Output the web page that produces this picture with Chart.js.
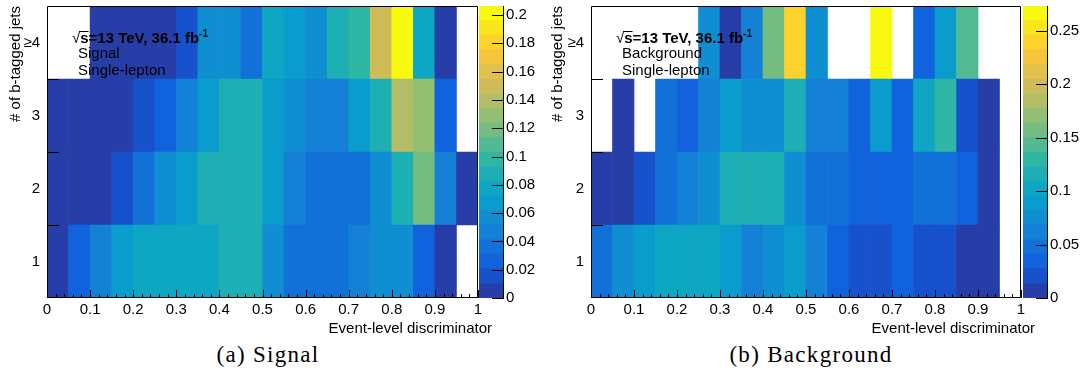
<!DOCTYPE html>
<html>
<head>
<meta charset="utf-8">
<title>b-tag multiplicity vs event-level discriminator</title>
<script src="https://cdn.jsdelivr.net/npm/chart.js@4.4.1/dist/chart.umd.min.js"></script>
<style>
  body { margin: 0; background: #fff; }
  #page { position: relative; width: 1085px; height: 377px; overflow: hidden; background: #fff; }
  canvas { position: absolute; top: 0; }
  .caption {
    position: absolute; top: 343px;
    font-family: "Liberation Serif", "Times New Roman", serif;
    font-size: 23px; line-height: 23px; letter-spacing: 1.3px;
    white-space: nowrap; transform: translateX(-50%); color: #000;
  }
</style>
</head>
<body>
<div id="page">
  <canvas id="sigMap" width="500" height="340" style="left:0"></canvas>
  <canvas id="sigPal" width="70" height="340" style="left:479px"></canvas>
  <canvas id="bkgMap" width="545" height="340" style="left:540px"></canvas>
  <canvas id="bkgPal" width="62" height="340" style="left:1023px"></canvas>
  <div class="caption" style="left:268px">(a) Signal</div>
  <div class="caption" style="left:811px">(b) Background</div>
</div>
<script>
// 20 bins of the event-level discriminator
var binCenters = [0.025, 0.075, 0.125, 0.175, 0.225, 0.275, 0.325, 0.375, 0.425, 0.475,
                  0.525, 0.575, 0.625, 0.675, 0.725, 0.775, 0.825, 0.875, 0.925, 0.975];
var nbLabels = ['1', '2', '3', '\u22654'];
var xTickValues = [0, 0.1, 0.2, 0.3, 0.4, 0.5, 0.6, 0.7, 0.8, 0.9, 1];
var xTickLabels = ['0', '0.1', '0.2', '0.3', '0.4', '0.5', '0.6', '0.7', '0.8', '0.9', '1'];

// signal, one row per b-tag multiplicity (null = empty bin)
var sig1b = [0.006, 0.026, 0.046, 0.067, 0.077, 0.078, 0.077, 0.078, 0.088, 0.089, 0.057, 0.036, 0.037, 0.036, 0.046, 0.056, 0.057, 0.026, 0.007, null];
var sig2b = [0.004, 0.006, 0.008, 0.016, 0.036, 0.057, 0.067, 0.088, 0.089, 0.087, 0.066, 0.046, 0.036, 0.037, 0.035, 0.056, 0.088, 0.119, 0.046, 0.005];
var sig3b = [0.005, 0.006, 0.007, 0.008, 0.015, 0.026, 0.046, 0.067, 0.088, 0.087, 0.068, 0.057, 0.046, 0.047, 0.066, 0.089, 0.139, 0.129, 0.026, null];
var sig4b = [null, null, 0.005, 0.005, 0.004, 0.006, 0.015, 0.057, 0.056, 0.036, 0.077, 0.067, 0.057, 0.088, 0.098, 0.150, 0.205, 0.078, 0.006, null];
var sigZmax = 0.2064;
var sigPalTicks = [0, 0.02, 0.04, 0.06, 0.08, 0.1, 0.12, 0.14, 0.16, 0.18, 0.2];
var sigPalLabels = ['0', '0.02', '0.04', '0.06', '0.08', '0.1', '0.12', '0.14', '0.16', '0.18', '0.2'];

// background
var bkg1b = [0.048, 0.075, 0.089, 0.103, 0.102, 0.102, 0.089, 0.061, 0.075, 0.089, 0.061, 0.034, 0.020, 0.021, 0.034, 0.020, 0.021, 0.007, 0.006, null];
var bkg2b = [0.006, 0.008, 0.020, 0.048, 0.061, 0.075, 0.116, 0.117, 0.115, 0.075, 0.048, 0.047, 0.034, 0.035, 0.034, 0.048, 0.047, 0.034, 0.007, null];
var bkg3b = [null, 0.008, null, 0.048, 0.034, 0.061, 0.089, 0.075, 0.076, 0.116, 0.061, 0.062, 0.034, 0.089, 0.035, 0.102, 0.130, 0.020, 0.007, null];
var bkg4b = [null, null, null, null, null, 0.075, 0.007, 0.061, 0.157, 0.239, 0.075, null, null, 0.270, null, 0.034, 0.089, 0.143, null, null];
var bkgZmax = 0.273;
var bkgPalTicks = [0, 0.05, 0.1, 0.15, 0.2, 0.25];
var bkgPalLabels = ['0', '0.05', '0.1', '0.15', '0.2', '0.25'];

// ROOT kBird palette, 20 contour levels
var birdStops = [0, 0.125, 0.25, 0.375, 0.5, 0.625, 0.75, 0.875, 1];
var birdR = [0.2082, 0.0592, 0.0780, 0.0232, 0.1802, 0.5301, 0.8186, 0.9956, 0.9764];
var birdG = [0.1664, 0.3599, 0.5041, 0.6419, 0.7178, 0.7492, 0.7328, 0.7862, 0.9832];
var birdB = [0.5293, 0.8684, 0.8385, 0.7914, 0.6425, 0.4662, 0.3499, 0.1968, 0.0539];
var nLevels = 20;

function bird(t) {
    var i = 0;
    while (i < birdStops.length - 2 && t > birdStops[i + 1]) i++;
    var f = (t - birdStops[i]) / (birdStops[i + 1] - birdStops[i]);
    var c = function (a) { return Math.round(255 * (a[i] + f * (a[i + 1] - a[i]))); };
    return 'rgb(' + c(birdR) + ',' + c(birdG) + ',' + c(birdB) + ')';
}
function bandColor(k) {
    return bird(Math.floor((k + 0.99) * 255 / nLevels) / 255);
}
function zColor(z, zmax) {
    if (z === null || z === undefined) return 'rgba(0,0,0,0)';
    var k = Math.floor(0.01 + z * nLevels / zmax);
    if (k > nLevels - 1) k = nLevels - 1;
    return bandColor(k);
}

Chart.defaults.font.family = '"Liberation Sans", Arial, sans-serif';
Chart.defaults.font.size = 15;
Chart.defaults.color = '#000';

// frame, inward ticks and the text boxes, ROOT style
var rootFrame = {
    id: 'rootFrame',
    afterDatasetsDraw: function (chart, args, opts) {
        var ctx = chart.ctx, a = chart.chartArea;
        var x = chart.scales.x, y = chart.scales.y;
        ctx.save();
        ctx.strokeStyle = '#000';
        ctx.lineWidth = 1;
        ctx.beginPath();
        ctx.rect(a.left + 0.5, a.top + 0.5, a.right - a.left - 1, a.bottom - a.top - 1);
        for (var k = 0; k <= 50; k++) {
            var px = Math.round(x.getPixelForValue(k / 50)) + 0.5;
            ctx.moveTo(px, a.bottom);
            ctx.lineTo(px, a.bottom - (k % 5 === 0 ? 8 : 4));
        }
        [1.5, 2.5, 3.5].forEach(function (v) {
            var py = Math.round(y.getPixelForValue(v)) + 0.5;
            ctx.moveTo(a.left, py);
            ctx.lineTo(a.left + 12, py);
        });
        ctx.stroke();

        ctx.fillStyle = '#000';
        ctx.textBaseline = 'alphabetic';
        // x axis title, right aligned
        ctx.font = '15px "Liberation Sans"';
        ctx.textAlign = 'right';
        ctx.fillText(opts.xTitle, a.right + 14, a.bottom + 34.5);

        // sqrt(s) label
        ctx.textAlign = 'left';
        var tx = a.left + 25;
        var base = a.top + 37;
        ctx.fillText('\u221a', tx, base);
        tx += ctx.measureText('\u221a').width;
        ctx.font = 'bold 15px "Liberation Sans"';
        var sw = ctx.measureText('s').width;
        ctx.fillText('s', tx, base);
        ctx.beginPath();
        ctx.moveTo(tx - 1, base - 11.5);
        ctx.lineTo(tx + sw, base - 11.5);
        ctx.stroke();
        tx += sw;
        ctx.fillText('=13 TeV, 36.1 fb', tx, base);
        tx += ctx.measureText('=13 TeV, 36.1 fb').width;
        ctx.font = 'bold 10px "Liberation Sans"';
        ctx.fillText('-1', tx, base - 6);

        ctx.font = '15px "Liberation Sans"';
        opts.lines.forEach(function (t, i) {
            ctx.fillText(t, a.left + 31, a.top + 51.5 + 17.5 * i);
        });
        ctx.restore();
    }
};

var paletteAxis = {
    id: 'paletteAxis',
    afterDatasetsDraw: function (chart) {
        var ctx = chart.ctx, a = chart.chartArea, y = chart.scales.y;
        ctx.save();
        ctx.strokeStyle = '#000';
        ctx.lineWidth = 1;
        ctx.beginPath();
        ctx.moveTo(a.right - 0.5, a.top);
        ctx.lineTo(a.right - 0.5, a.bottom);
        y.ticks.forEach(function (t) {
            var py = Math.round(y.getPixelForValue(t.value)) + 0.5;
            ctx.moveTo(a.right - 12, py);
            ctx.lineTo(a.right, py);
        });
        ctx.stroke();
        ctx.restore();
    }
};

function drawMap(id, rows, zmax, axisWidth, padRight, titlePad, lines) {
    var datasets = rows.map(function (vals, r) {
        return {
            label: nbLabels[r],
            data: binCenters.map(function (xc, i) {
                return { x: xc, y: [r + 0.5, r + 1.5], z: vals[i] };
            }),
            backgroundColor: function (c) { return zColor(c.raw ? c.raw.z : null, zmax); },
            grouped: false,
            barPercentage: 1,
            categoryPercentage: 1,
            borderWidth: 0
        };
    });

    new Chart(document.getElementById(id), {
        type: 'bar',
        data: { datasets: datasets },
        options: {
            responsive: false,
            animation: false,
            events: [],
            layout: { padding: { top: 6, right: padRight, left: 0, bottom: 0 } },
            plugins: {
                legend: { display: false },
                tooltip: { enabled: false },
                rootFrame: { xTitle: 'Event-level discriminator', lines: lines }
            },
            scales: {
                x: {
                    type: 'linear', min: 0, max: 1, offset: false,
                    grid: { display: false, drawTicks: false }, border: { display: false },
                    afterBuildTicks: function (s) { s.ticks = xTickValues.map(function (v) { return { value: v }; }); },
                    ticks: {
                        autoSkip: false, maxRotation: 0, padding: 3,
                        callback: function (v, i) { return xTickLabels[i]; }
                    },
                    afterFit: function (s) { s.height = 42; s.paddingLeft = 0; s.paddingRight = 0; }
                },
                y: {
                    type: 'linear', min: 0.5, max: 4.5,
                    grid: { display: false, drawTicks: false }, border: { display: false },
                    afterBuildTicks: function (s) { s.ticks = nbLabels.map(function (l, i) { return { value: i + 1 }; }); },
                    ticks: { padding: 7, callback: function (v, i) { return nbLabels[i]; } },
                    title: { display: true, text: '# of b-tagged jets', align: 'end', padding: { top: titlePad, bottom: 0 } },
                    afterFit: function (s) { s.width = axisWidth; s.paddingTop = 0; s.paddingBottom = 0; }
                }
            }
        },
        plugins: [rootFrame]
    });
}

function drawPalette(id, zmax, tickVals, tickLabels, axisWidth) {
    var datasets = [];
    for (var k = 0; k < nLevels; k++) {
        datasets.push({
            data: [[k * zmax / nLevels, (k + 1) * zmax / nLevels]],
            backgroundColor: bandColor(k),
            grouped: false, barPercentage: 1, categoryPercentage: 1, borderWidth: 0
        });
    }
    new Chart(document.getElementById(id), {
        type: 'bar',
        data: { labels: [''], datasets: datasets },
        options: {
            responsive: false,
            animation: false,
            events: [],
            layout: { padding: { top: 6, bottom: 42, left: 0, right: 0 } },
            plugins: { legend: { display: false }, tooltip: { enabled: false } },
            scales: {
                x: { display: false },
                y: {
                    position: 'right', min: 0, max: zmax,
                    grid: { display: false, drawTicks: false }, border: { display: false },
                    afterBuildTicks: function (s) { s.ticks = tickVals.map(function (v) { return { value: v }; }); },
                    ticks: { padding: 2, callback: function (v, i) { return tickLabels[i]; } },
                    afterFit: function (s) { s.width = axisWidth; s.paddingTop = 0; s.paddingBottom = 0; }
                }
            }
        },
        plugins: [paletteAxis]
    });
}

drawMap('sigMap', [sig1b, sig2b, sig3b, sig4b], sigZmax, 47, 22, 6.5, ['Signal', 'Single-lepton']);
drawPalette('sigPal', sigZmax, sigPalTicks, sigPalLabels, 45);
drawMap('bkgMap', [bkg1b, bkg2b, bkg3b, bkg4b], bkgZmax, 51, 64, 8.5, ['Background', 'Single-lepton']);
drawPalette('bkgPal', bkgZmax, bkgPalTicks, bkgPalLabels, 37);
</script>
</body>
</html>
